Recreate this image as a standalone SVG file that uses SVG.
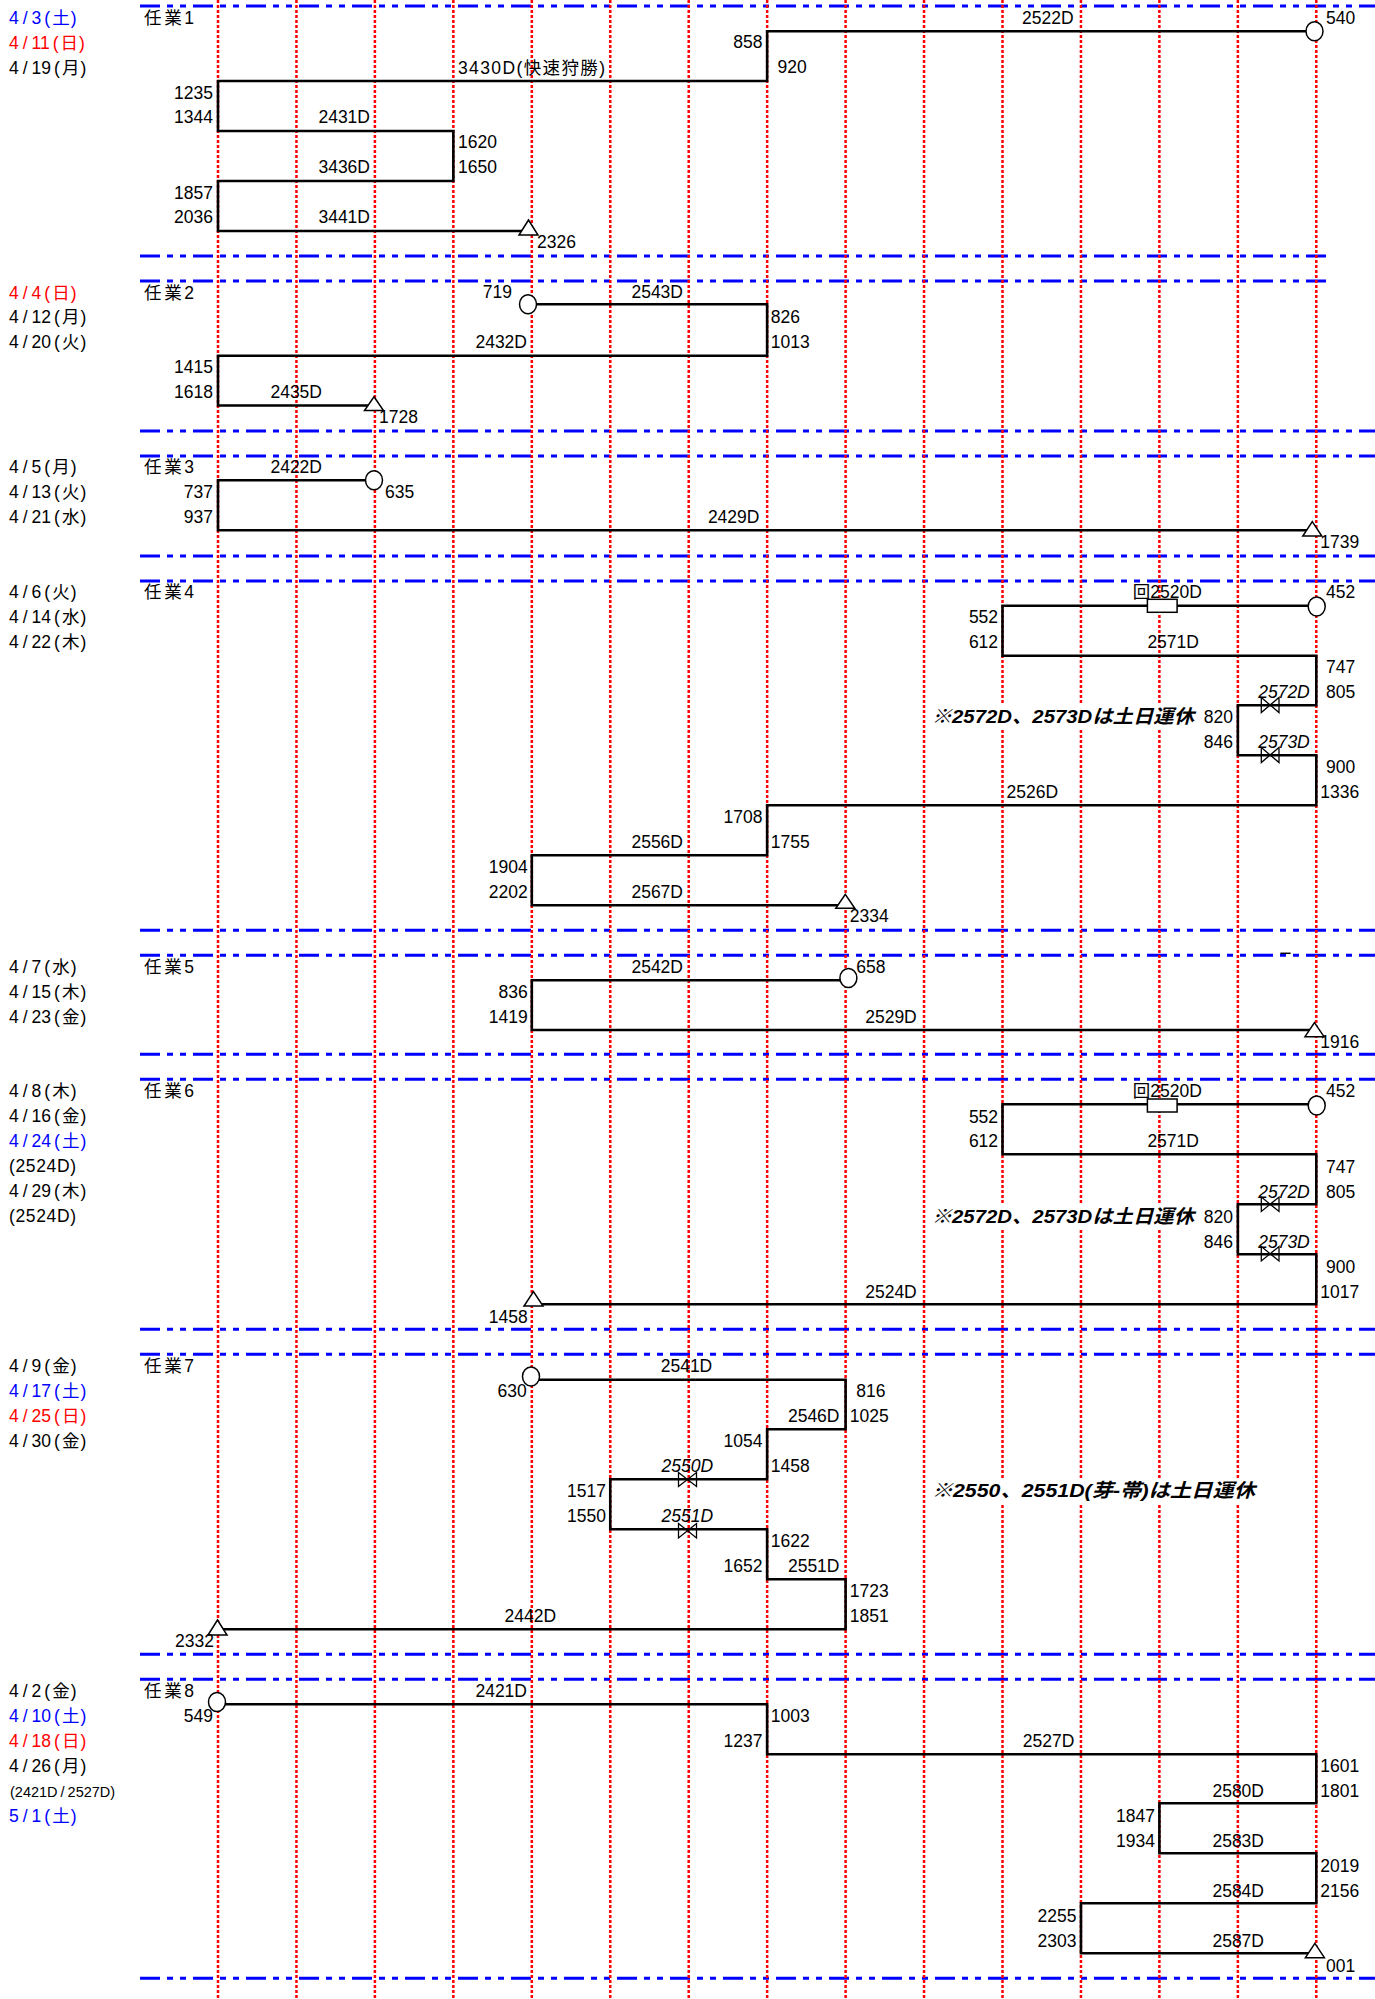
<svg xmlns="http://www.w3.org/2000/svg" width="1375" height="1999" viewBox="0 0 1375 1999">
<style>
.t{font-family:"Liberation Sans","Noto Sans CJK JP",sans-serif;font-size:17.5px;fill:#000}
.e{text-anchor:end}
.i{font-style:italic}
.b{fill:#0000ff}
.rd{fill:#ff0000}
.sm{font-size:14.5px}
.note{font-family:"Liberation Sans","Noto Sans CJK JP",sans-serif;font-weight:bold;font-style:italic;font-size:19px;fill:#000}
.grid{stroke:#ff0000;stroke-width:2.5;stroke-dasharray:3 2;fill:none}
.sep{stroke:#0000ff;stroke-width:3;stroke-dasharray:20 7 6 7 6 7;fill:none}
.tr{fill:none;stroke:#000;stroke-width:2.6;stroke-linejoin:miter;stroke-linecap:square}
.mk{fill:#fff;stroke:#000;stroke-width:1.5}
.bt{fill:none;stroke:#000;stroke-width:1.3}
</style>
<rect x="0" y="0" width="1375" height="1999" fill="#fff"/>
<g id="separators" class="sep">
<path d="M140,6H1375M140,256H1327M140,281H1327M140,431H1375M140,456H1375M140,556H1375M140,581H1375M140,930.3H1375M140,955.3H1375M140,1054.3H1375M140,1079.3H1375M140,1329.3H1375M140,1354.3H1375M140,1654.3H1375M140,1679.3H1375M140,1978.3H1375"/>
</g>
<g id="grid" class="grid">
<path d="M218,0V1999M296.45,0V1999M374.9,0V1999M453.35,0V1999M531.8,0V1999M610.25,0V1999M688.7,0V1999M767.15,0V1999M845.6,0V1999M924.05,0V1999M1002.5,0V1999M1080.95,0V1999M1159.4,0V1999M1237.85,0V1999M1316.3,0V1999"/>
</g>
<g id="connectors">
<path class="tr" d="M1314.5,31.3H767.15V81H218V131H453.35V181H218V231H528.5"/>
<path class="tr" d="M528,304.3H767.15V355.7H218V405.5H374"/>
<path class="tr" d="M374,480.3H218V530.3H1312.3"/>
<path class="tr" d="M1316.7,605.7H1002.5V655.7H1316.3V705.3H1237.85V755.3H1316.3V805.3H767.15V855.3H531.8V905.3H845.3"/>
<path class="tr" d="M848.4,980.3H531.8V1030H1314.5"/>
<path class="tr" d="M1316.7,1104.3H1002.5V1154.3H1316.3V1204.3H1237.85V1254.3H1316.3V1304.3H533.5"/>
<path class="tr" d="M531,1379.7H845.6V1429.3H767.15V1479.3H610.25V1529.3H767.15V1579.3H845.6V1629.3H217.5"/>
<path class="tr" d="M217,1704.3H767.15V1754.3H1316.3V1803.3H1159.4V1853.3H1316.3V1903.3H1080.95V1953.3H1314.9"/>
<path d="M1280.4,953.3H1290.6" stroke="#000" stroke-width="1.5"/>
</g>
<g id="shigyo1">
<ellipse class="mk" cx="1314.5" cy="31.3" rx="8.5" ry="9.5"/>
<path class="mk" d="M528.5,220L538,235H519Z"/>
<text class="t b" x="9" y="24">4<tspan dx="4">/</tspan><tspan dx="4">3</tspan><tspan dx="3">(</tspan><tspan dx="2">土</tspan><tspan dx="1">)</tspan></text>
<text class="t rd" x="9" y="49">4<tspan dx="4">/</tspan><tspan dx="4">11</tspan><tspan dx="3">(</tspan><tspan dx="2">日</tspan><tspan dx="1">)</tspan></text>
<text class="t" x="9" y="74">4<tspan dx="4">/</tspan><tspan dx="4">19</tspan><tspan dx="3">(</tspan><tspan dx="2">月</tspan><tspan dx="1">)</tspan></text>
<text class="t" x="144" y="24" textLength="50" lengthAdjust="spacing">任業1</text>
<text class="t" x="1022" y="24">2522D</text>
<text class="t" x="1326" y="24">540</text>
<text class="t e" x="762.4" y="48">858</text>
<text class="t" x="777.5" y="73">920</text>
<text class="t" x="458" y="74" textLength="147" lengthAdjust="spacing">3430D(快速狩勝)</text>
<text class="t e" x="213" y="99">1235</text>
<text class="t e" x="213" y="123">1344</text>
<text class="t e" x="370" y="123">2431D</text>
<text class="t" x="458" y="148">1620</text>
<text class="t" x="458" y="173">1650</text>
<text class="t e" x="370" y="173">3436D</text>
<text class="t e" x="213" y="199">1857</text>
<text class="t e" x="213" y="223">2036</text>
<text class="t e" x="370" y="223">3441D</text>
<text class="t" x="537" y="248">2326</text>
</g>
<g id="shigyo2">
<ellipse class="mk" cx="528" cy="304.3" rx="8.5" ry="9.5"/>
<path class="mk" d="M374,396.7L383.5,410.5H364.5Z"/>
<text class="t rd" x="9" y="299">4<tspan dx="4">/</tspan><tspan dx="4">4</tspan><tspan dx="3">(</tspan><tspan dx="2">日</tspan><tspan dx="1">)</tspan></text>
<text class="t" x="9" y="323">4<tspan dx="4">/</tspan><tspan dx="4">12</tspan><tspan dx="3">(</tspan><tspan dx="2">月</tspan><tspan dx="1">)</tspan></text>
<text class="t" x="9" y="348">4<tspan dx="4">/</tspan><tspan dx="4">20</tspan><tspan dx="3">(</tspan><tspan dx="2">火</tspan><tspan dx="1">)</tspan></text>
<text class="t" x="144" y="299" textLength="50" lengthAdjust="spacing">任業2</text>
<text class="t e" x="512" y="298">719</text>
<text class="t e" x="683" y="298">2543D</text>
<text class="t" x="770.8" y="323">826</text>
<text class="t" x="770.8" y="348">1013</text>
<text class="t e" x="527" y="348">2432D</text>
<text class="t e" x="213" y="373">1415</text>
<text class="t e" x="213" y="398">1618</text>
<text class="t e" x="322" y="398">2435D</text>
<text class="t" x="379" y="423">1728</text>
</g>
<g id="shigyo3">
<ellipse class="mk" cx="374" cy="480.3" rx="8.5" ry="9.5"/>
<path class="mk" d="M1312.3,521.7L1321.8,536H1302.8Z"/>
<text class="t" x="9" y="473">4<tspan dx="4">/</tspan><tspan dx="4">5</tspan><tspan dx="3">(</tspan><tspan dx="2">月</tspan><tspan dx="1">)</tspan></text>
<text class="t" x="9" y="498">4<tspan dx="4">/</tspan><tspan dx="4">13</tspan><tspan dx="3">(</tspan><tspan dx="2">火</tspan><tspan dx="1">)</tspan></text>
<text class="t" x="9" y="523">4<tspan dx="4">/</tspan><tspan dx="4">21</tspan><tspan dx="3">(</tspan><tspan dx="2">水</tspan><tspan dx="1">)</tspan></text>
<text class="t" x="144" y="473" textLength="50" lengthAdjust="spacing">任業3</text>
<text class="t e" x="322" y="473">2422D</text>
<text class="t" x="385" y="498">635</text>
<text class="t e" x="213" y="498">737</text>
<text class="t e" x="213" y="523">937</text>
<text class="t" x="707.9" y="523">2429D</text>
<text class="t" x="1320.2" y="548">1739</text>
</g>
<g id="shigyo4">
<ellipse class="mk" cx="1316.7" cy="606.5" rx="8.5" ry="9.5"/>
<rect class="mk" x="1147.4" y="599.3" width="29.7" height="13"/>
<path class="bt" d="M1261.3,697.5L1279,712.5V697.5L1261.3,712.5Z"/>
<path class="bt" d="M1261.3,747.5L1279,762.5V747.5L1261.3,762.5Z"/>
<path class="mk" d="M845.3,894.3L854.8,908.3H835.8Z"/>
<text class="t" x="9" y="598">4<tspan dx="4">/</tspan><tspan dx="4">6</tspan><tspan dx="3">(</tspan><tspan dx="2">火</tspan><tspan dx="1">)</tspan></text>
<text class="t" x="9" y="623">4<tspan dx="4">/</tspan><tspan dx="4">14</tspan><tspan dx="3">(</tspan><tspan dx="2">水</tspan><tspan dx="1">)</tspan></text>
<text class="t" x="9" y="648">4<tspan dx="4">/</tspan><tspan dx="4">22</tspan><tspan dx="3">(</tspan><tspan dx="2">木</tspan><tspan dx="1">)</tspan></text>
<text class="t" x="144" y="598" textLength="50" lengthAdjust="spacing">任業4</text>
<text class="t" x="1326" y="598">452</text>
<text class="t" x="1132.8" y="598">回2520D</text>
<text class="t e" x="998.1" y="623">552</text>
<text class="t e" x="998.1" y="648">612</text>
<text class="t" x="1147.4" y="648">2571D</text>
<text class="t" x="1326" y="673">747</text>
<text class="t" x="1326" y="698">805</text>
<text class="t i" x="1258.2" y="698">2572D</text>
<text class="t e" x="1233" y="723">820</text>
<text class="t e" x="1233" y="748">846</text>
<rect x="928" y="705" width="271" height="25" fill="#fff"/>
<text class="note" x="931.7" y="723" textLength="262.3" lengthAdjust="spacingAndGlyphs">※2572D、2573Dは土日運休</text>
<text class="t i" x="1258.2" y="748">2573D</text>
<text class="t" x="1326" y="773">900</text>
<text class="t" x="1320.2" y="798">1336</text>
<text class="t" x="1006.5" y="798">2526D</text>
<text class="t e" x="762.4" y="823">1708</text>
<text class="t" x="770.8" y="848">1755</text>
<text class="t e" x="683" y="848">2556D</text>
<text class="t e" x="527.7" y="873">1904</text>
<text class="t e" x="527.7" y="898">2202</text>
<text class="t e" x="683" y="898">2567D</text>
<text class="t" x="849.7" y="922">2334</text>
</g>
<g id="shigyo5">
<ellipse class="mk" cx="848.4" cy="978" rx="8.5" ry="9.5"/>
<path class="mk" d="M1314.5,1022.7L1324,1036.7H1305Z"/>
<text class="t" x="9" y="972.7">4<tspan dx="4">/</tspan><tspan dx="4">7</tspan><tspan dx="3">(</tspan><tspan dx="2">水</tspan><tspan dx="1">)</tspan></text>
<text class="t" x="9" y="997.7">4<tspan dx="4">/</tspan><tspan dx="4">15</tspan><tspan dx="3">(</tspan><tspan dx="2">木</tspan><tspan dx="1">)</tspan></text>
<text class="t" x="9" y="1022.7">4<tspan dx="4">/</tspan><tspan dx="4">23</tspan><tspan dx="3">(</tspan><tspan dx="2">金</tspan><tspan dx="1">)</tspan></text>
<text class="t" x="144" y="972.7" textLength="50" lengthAdjust="spacing">任業5</text>
<text class="t e" x="683" y="972.7">2542D</text>
<text class="t" x="856.3" y="972.7">658</text>
<text class="t e" x="527.7" y="997.7">836</text>
<text class="t e" x="527.7" y="1022.7">1419</text>
<text class="t" x="865.2" y="1022.7">2529D</text>
<text class="t" x="1320.2" y="1048.3">1916</text>
</g>
<g id="shigyo6">
<ellipse class="mk" cx="1316.7" cy="1105.5" rx="8.5" ry="9.5"/>
<rect class="mk" x="1147.4" y="1099" width="29.7" height="13"/>
<path class="bt" d="M1261.3,1197L1279,1211.5V1197L1261.3,1211.5Z"/>
<path class="bt" d="M1261.3,1246.5L1279,1261V1246.5L1261.3,1261Z"/>
<path class="mk" d="M533.5,1291.7L543,1306H524Z"/>
<text class="t" x="9" y="1096.7">4<tspan dx="4">/</tspan><tspan dx="4">8</tspan><tspan dx="3">(</tspan><tspan dx="2">木</tspan><tspan dx="1">)</tspan></text>
<text class="t" x="9" y="1121.7">4<tspan dx="4">/</tspan><tspan dx="4">16</tspan><tspan dx="3">(</tspan><tspan dx="2">金</tspan><tspan dx="1">)</tspan></text>
<text class="t b" x="9" y="1146.7">4<tspan dx="4">/</tspan><tspan dx="4">24</tspan><tspan dx="3">(</tspan><tspan dx="2">土</tspan><tspan dx="1">)</tspan></text>
<text class="t" x="9" y="1171.7" textLength="67" lengthAdjust="spacing">(2524D)</text>
<text class="t" x="9" y="1196.7">4<tspan dx="4">/</tspan><tspan dx="4">29</tspan><tspan dx="3">(</tspan><tspan dx="2">木</tspan><tspan dx="1">)</tspan></text>
<text class="t" x="9" y="1221.7" textLength="67" lengthAdjust="spacing">(2524D)</text>
<text class="t" x="144" y="1096.7" textLength="50" lengthAdjust="spacing">任業6</text>
<text class="t" x="1326" y="1096.7">452</text>
<text class="t" x="1132.8" y="1096.7">回2520D</text>
<text class="t e" x="998.1" y="1122.7">552</text>
<text class="t e" x="998.1" y="1147.3">612</text>
<text class="t" x="1147.4" y="1147.3">2571D</text>
<text class="t" x="1326" y="1172.7">747</text>
<text class="t" x="1326" y="1197.7">805</text>
<text class="t i" x="1258.2" y="1197.7">2572D</text>
<text class="t e" x="1233" y="1222.7">820</text>
<text class="t e" x="1233" y="1247.7">846</text>
<rect x="928" y="1204.5" width="271" height="25" fill="#fff"/>
<text class="note" x="931.7" y="1222.7" textLength="262.3" lengthAdjust="spacingAndGlyphs">※2572D、2573Dは土日運休</text>
<text class="t i" x="1258.2" y="1247.7">2573D</text>
<text class="t" x="1326" y="1272.7">900</text>
<text class="t" x="1320.2" y="1297.7">1017</text>
<text class="t" x="865.2" y="1297.7">2524D</text>
<text class="t e" x="527.7" y="1322.7">1458</text>
</g>
<g id="shigyo7">
<ellipse class="mk" cx="531" cy="1376.5" rx="8.5" ry="9.5"/>
<path class="bt" d="M678.5,1472.5L696.5,1486.5V1472.5L678.5,1486.5Z"/>
<path class="bt" d="M678.5,1523.5L696.5,1538V1523.5L678.5,1538Z"/>
<path class="mk" d="M217.5,1620L227,1635H208Z"/>
<text class="t" x="9" y="1372.3">4<tspan dx="4">/</tspan><tspan dx="4">9</tspan><tspan dx="3">(</tspan><tspan dx="2">金</tspan><tspan dx="1">)</tspan></text>
<text class="t b" x="9" y="1397.3">4<tspan dx="4">/</tspan><tspan dx="4">17</tspan><tspan dx="3">(</tspan><tspan dx="2">土</tspan><tspan dx="1">)</tspan></text>
<text class="t rd" x="9" y="1422.3">4<tspan dx="4">/</tspan><tspan dx="4">25</tspan><tspan dx="3">(</tspan><tspan dx="2">日</tspan><tspan dx="1">)</tspan></text>
<text class="t" x="9" y="1447.3">4<tspan dx="4">/</tspan><tspan dx="4">30</tspan><tspan dx="3">(</tspan><tspan dx="2">金</tspan><tspan dx="1">)</tspan></text>
<text class="t" x="144" y="1372.3" textLength="50" lengthAdjust="spacing">任業7</text>
<text class="t e" x="526.8" y="1397.3">630</text>
<text class="t" x="660.7" y="1372.3">2541D</text>
<text class="t" x="856.3" y="1397.3">816</text>
<text class="t" x="849.7" y="1422.3">1025</text>
<text class="t e" x="839.5" y="1422.3">2546D</text>
<text class="t e" x="762.4" y="1447.3">1054</text>
<text class="t" x="770.8" y="1472.3">1458</text>
<text class="t i" x="661.6" y="1472.3">2550D</text>
<text class="t e" x="606" y="1497.3">1517</text>
<text class="t e" x="606" y="1522.3">1550</text>
<text class="t i" x="661.6" y="1522.3">2551D</text>
<text class="t" x="770.8" y="1547.3">1622</text>
<text class="t e" x="762.4" y="1572.3">1652</text>
<text class="t e" x="839.5" y="1572.3">2551D</text>
<text class="t" x="849.7" y="1597.3">1723</text>
<text class="t" x="849.7" y="1622.3">1851</text>
<text class="t" x="504.5" y="1622.3">2442D</text>
<text class="t e" x="214" y="1646.7">2332</text>
<rect x="928" y="1478" width="332" height="26" fill="#fff"/>
<text class="note" x="931.7" y="1496.7" textLength="323.4" lengthAdjust="spacingAndGlyphs">※2550、2551D(芽-帯)は土日運休</text>
</g>
<g id="shigyo8">
<ellipse class="mk" cx="217" cy="1702" rx="8.5" ry="9.5"/>
<path class="mk" d="M1314.9,1943.3L1324.4,1957.7H1305.4Z"/>
<text class="t" x="9" y="1696.7">4<tspan dx="4">/</tspan><tspan dx="4">2</tspan><tspan dx="3">(</tspan><tspan dx="2">金</tspan><tspan dx="1">)</tspan></text>
<text class="t b" x="9" y="1721.7">4<tspan dx="4">/</tspan><tspan dx="4">10</tspan><tspan dx="3">(</tspan><tspan dx="2">土</tspan><tspan dx="1">)</tspan></text>
<text class="t rd" x="9" y="1746.7">4<tspan dx="4">/</tspan><tspan dx="4">18</tspan><tspan dx="3">(</tspan><tspan dx="2">日</tspan><tspan dx="1">)</tspan></text>
<text class="t" x="9" y="1771.7">4<tspan dx="4">/</tspan><tspan dx="4">26</tspan><tspan dx="3">(</tspan><tspan dx="2">月</tspan><tspan dx="1">)</tspan></text>
<text class="t sm" x="10" y="1796.7">(2421D<tspan dx="3">/</tspan><tspan dx="3">2527D)</tspan></text>
<text class="t b" x="9" y="1821.7">5<tspan dx="4">/</tspan><tspan dx="4">1</tspan><tspan dx="3">(</tspan><tspan dx="2">土</tspan><tspan dx="1">)</tspan></text>
<text class="t" x="144" y="1696.7" textLength="50" lengthAdjust="spacing">任業8</text>
<text class="t e" x="213" y="1721.7">549</text>
<text class="t e" x="527" y="1696.7">2421D</text>
<text class="t" x="770.8" y="1721.7">1003</text>
<text class="t e" x="762.4" y="1746.7">1237</text>
<text class="t e" x="1074.3" y="1746.7">2527D</text>
<text class="t" x="1320.2" y="1771.7">1601</text>
<text class="t" x="1320.2" y="1796.7">1801</text>
<text class="t e" x="1264" y="1796.7">2580D</text>
<text class="t e" x="1155" y="1821.7">1847</text>
<text class="t e" x="1155" y="1846.7">1934</text>
<text class="t e" x="1264" y="1846.7">2583D</text>
<text class="t" x="1320.2" y="1871.7">2019</text>
<text class="t" x="1320.2" y="1896.7">2156</text>
<text class="t e" x="1264" y="1896.7">2584D</text>
<text class="t e" x="1076.5" y="1921.7">2255</text>
<text class="t e" x="1076.5" y="1946.7">2303</text>
<text class="t e" x="1264" y="1946.7">2587D</text>
<text class="t" x="1326" y="1971.7">001</text>
</g>
</svg>
